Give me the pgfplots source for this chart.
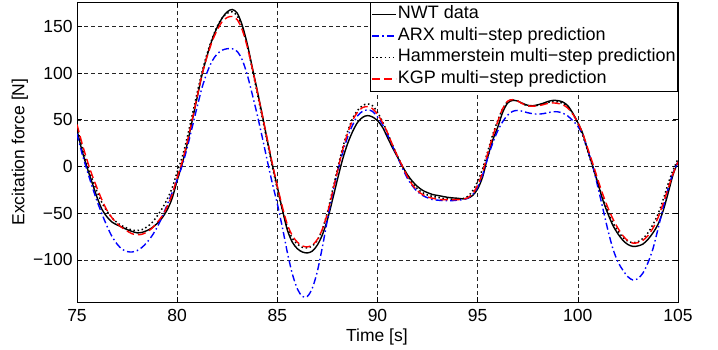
\documentclass[border=0pt]{standalone}
\usepackage{fontspec}
\setmainfont{Liberation Sans}
\usepackage{pgfplots}
\usepackage{pgfplotstable}
\pgfplotsset{compat=1.18}
\pgfplotsset{
  mylegimg/.style={legend image code/.code={\draw[##1, line width=1.4pt] (0pt,0pt) -- (24pt,0pt);}},
}
\pgfplotstableread{
t nwt arx ham kgp
75.00 39 35 42 45
75.25 17 14 21 25
75.50 -1 -4 3 7
75.75 -17 -21 -13 -9
76.00 -33 -37 -27 -23
76.25 -46 -51 -39 -36
76.50 -54 -64 -48 -47
76.75 -59.5 -75 -55 -55
77.00 -62.5 -83 -60 -61
77.25 -65 -88.5 -63.5 -65.5
77.50 -67.5 -91 -66 -69
77.75 -69.5 -91.5 -68 -72
78.00 -71 -90 -68.5 -73
78.25 -70.5 -86.5 -67.5 -72.5
78.50 -68.5 -81 -64.5 -70
78.75 -65.5 -74 -60 -66
79.00 -61 -65 -53 -60
79.25 -55 -54 -45 -53
79.50 -46.5 -41 -35 -43
79.75 -34 -28 -23 -30
80.00 -15 -14 -6 -12
80.25 3 1 10 5
80.50 24 20 31 26
80.75 49 42 55 50
81.00 74 64 79 75
81.25 99 85 102 99
81.50 119 101 121 118
81.75 136 113 137 134
82.00 149 120.5 150 146
82.25 159 124.5 159 155
82.50 165.5 126 164 159.5
82.75 168 126 165.5 160.5
83.00 164 123 161 157
83.25 151 114 149 146
83.50 131 98 129 128
83.75 106 77 104 105
84.00 81 55 78 80
84.25 55 31 52 55
84.50 28 6 26 29
84.75 2 -18 0 3
85.00 -22 -40 -24 -21
85.25 -46 -65 -46 -43
85.50 -68 -92 -65 -62
85.75 -81 -115 -77 -74
86.00 -88 -131 -83 -81
86.25 -91.5 -139 -86.5 -85
86.50 -92.5 -139 -87 -86
86.75 -90.5 -130 -85 -84
87.00 -84 -112 -79 -78
87.25 -73 -86 -67 -67
87.50 -57 -57 -49 -50
87.75 -36 -30 -26 -28
88.00 -14 -6 -3 -5
88.25 7 14 19 17
88.50 24 31 37 35
88.75 37 44 51 49
89.00 47 54 60 58
89.25 52.5 59 65 63
89.50 54.5 60.5 67 64
89.75 53 59 65 62
90.00 49 53 58 56
90.25 42 45 48 47
90.50 31 34 36 36
90.75 20 22 23 23
91.00 10 10 11 11
91.25 0 -2 0 0
91.50 -9 -13 -10 -11
91.75 -16 -21 -18 -20
92.00 -21.5 -27 -24 -26
92.25 -25.5 -31 -28 -30
92.50 -28 -33.5 -30.5 -32.5
92.75 -30 -35.5 -32 -34
93.00 -31 -36 -33 -35
93.25 -32 -36.5 -34 -35.5
93.50 -33 -36.5 -34.5 -35.5
93.75 -33.6 -36.5 -35 -35.5
94.00 -34 -36 -35 -35.5
94.25 -34.6 -35.5 -34.5 -35
94.50 -34 -34 -32 -33.5
94.75 -31 -30 -26 -29
95.00 -24 -22 -16 -20
95.25 -11 -9 -2 -6
95.50 10 9 16 14
95.75 28 25 34 32
96.00 42 38 49 48
96.25 58 48 62 62
96.50 68 55 69.5 70
96.75 70.7 59 71 71.5
97.00 70 60 70 70
97.25 67.5 59 67 67
97.50 65.5 57.5 65 65
97.75 65 56.5 64.5 64.5
98.00 66 56 65.5 65
98.25 67.5 56.5 67 66
98.50 69.5 57.5 68.5 67.5
98.75 70.7 58.5 69.5 68
99.00 70.5 58.5 69 67.5
99.25 69 57 67.5 66
99.50 65 54 63.5 62.5
99.75 57 49 56 56
100.00 47 43 46 47
100.25 35 33 33 35
100.50 17 17 16 19
100.75 0 0 -1 3
101.00 -18 -22 -18 -14
101.25 -36 -45 -34 -30
101.50 -50.5 -68 -48 -44
101.75 -63 -88 -60 -56
102.00 -72 -102 -69 -66
102.25 -79 -111 -76 -74
102.50 -83.5 -118 -80 -79.5
102.75 -85.5 -121.5 -81.5 -82
103.00 -85 -120 -80.5 -81.5
103.25 -83 -114 -77 -79
103.50 -78 -103 -71 -74
103.75 -71 -88 -62 -66
104.00 -62 -67 -51 -55
104.25 -48 -45 -36 -40
104.50 -29 -24 -19 -24
104.75 -9 -7 -4 -8
105.00 5 5 8 5
}\datatable
\begin{document}
\begin{tikzpicture}
\useasboundingbox (0,0) rectangle (718pt,349pt);
\begin{axis}[
  at={(77pt,47pt)}, anchor=south west,
  scale only axis, width=601pt, height=300pt,
  xmin=75, xmax=105, ymin=-145, ymax=176,
  xtick={75,80,...,105},
  ytick={-100,-50,0,50,100,150},
  yticklabels={−100,−50,0,50,100,150},
  /pgf/number format/assume math mode=true,
  font=\fontsize{17.5}{21}\selectfont,
  tick label style={font=\fontsize{17.5}{21}\selectfont},
  label style={font=\fontsize{17.5}{21}\selectfont},
  xticklabel style={anchor=base, inner sep=0pt, yshift=-19pt},
  yticklabel style={anchor=east, inner sep=0pt, xshift=-4.3pt},
  xlabel={Time [s]},
  ylabel={Excitation force [N]},
  xlabel style={at={(axis description cs:0.499,-0.13)}, anchor=base, inner sep=0pt},
  ylabel style={at={(axis description cs:-0.095,0.5)}, anchor=center, rotate=0, inner sep=0pt},
  grid=major,
  major grid style={black!85, line width=0.5pt, dash pattern=on 4pt off 3pt},
  axis line style={black, line width=0.9pt},
  tick align=inside, major tick length=5pt,
  tick style={black, line width=0.6pt},
  legend cell align=left,
  legend style={at={(1,1)}, anchor=north east, draw=black, line width=0.8pt, fill=white,
    font=\fontsize{18}{21}\selectfont, inner xsep=1pt, inner ysep=2.5pt, row sep=2pt,
    nodes={inner sep=1pt, text height=13pt, text depth=4.5pt}},
  legend image post style={line width=1.4pt},
  mylegimg,
]
\addplot[black, line width=1.4pt, smooth] table[x=t, y=nwt] {\datatable};
\addlegendentry{NWT data}
\addplot[blue, line width=1.4pt, smooth, dash pattern=on 7pt off 3pt on 1.5pt off 3pt] table[x=t, y=arx] {\datatable};
\addlegendentry{ARX multi−step prediction}
\addplot[black, line width=1.5pt, smooth, dash pattern=on 1.5pt off 2.6pt] table[x=t, y=ham] {\datatable};
\addlegendentry{Hammerstein multi−step prediction}
\addplot[red, line width=1.4pt, smooth, dash pattern=on 8pt off 4pt] table[x=t, y=kgp] {\datatable};
\addlegendentry{KGP multi−step prediction}
\end{axis}
\end{tikzpicture}
\end{document}
